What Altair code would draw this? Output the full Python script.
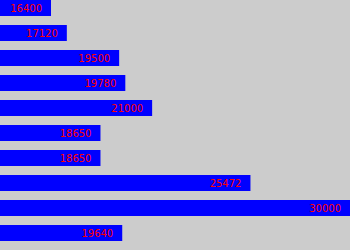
import altair as alt
import pandas as pd

rows = ["r1", "r2", "r3", "r4", "r5", "r6", "r7", "r8", "r9", "r10"]
values = [16400, 17120, 19500, 19780, 21000, 18650, 18650, 25472, 30000, 19640]
labels = [str(v) for v in values]

df = pd.DataFrame({"row": rows, "value": values, "label": labels})

x_scale = alt.Scale(domain=[14080, 30000], nice=False, zero=False, clamp=True)
y_scale = alt.Scale(paddingInner=0.36, paddingOuter=0.18, align=0)

base = alt.Chart(df)

bars = base.mark_bar(color="#0000ff").encode(
    x=alt.X("value:Q", scale=x_scale, axis=None),
    x2=alt.value(0),
    y=alt.Y("row:N", sort=None, scale=y_scale, axis=None),
)

text = base.mark_text(
    align="right", baseline="middle", dx=-9, dy=0.5,
    color="#ff0000", font="DejaVu Sans", fontSize=10,
).encode(
    x=alt.X("value:Q", scale=x_scale, axis=None),
    y=alt.Y("row:N", sort=None, scale=y_scale, axis=None),
    text="label:N",
)

chart = (bars + text).properties(
    width=350, height=250, background="#cccccc", padding=0,
    autosize=alt.AutoSizeParams(type="none"),
).configure_view(stroke=None)

chart.save("out.html", embed_options={"renderer": "svg", "actions": False})
